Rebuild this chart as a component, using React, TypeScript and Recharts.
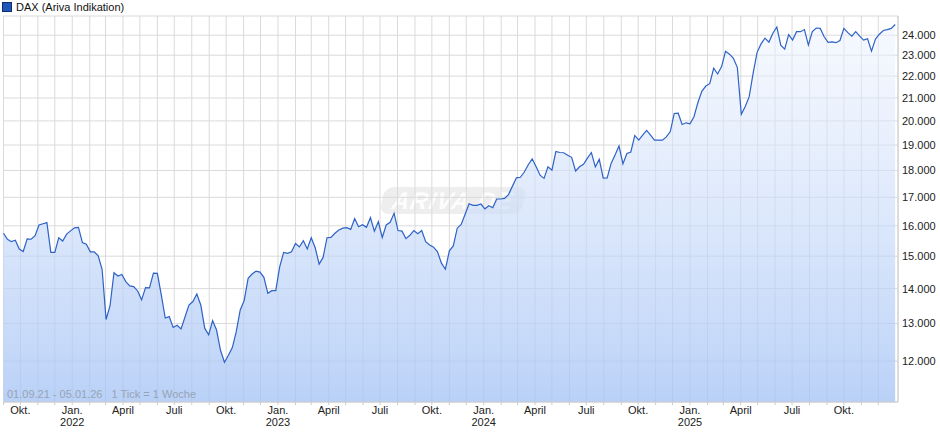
import { AreaChart, Area, XAxis, YAxis, CartesianGrid } from "recharts";

// Wochenschlusskurse DAX, 01.09.21 - 05.01.26 (1 Tick = 1 Woche)
const startDate = Date.UTC(2021, 8, 1);
const endDate = Date.UTC(2026, 0, 5);

const daxValues = [
  15750, 15550, 15470, 15520, 15230, 15150, 15560, 15550, 15670, 16030,
  16070, 16110, 15120, 15120, 15600, 15490, 15720, 15830, 15930, 15950,
  15440, 15390, 15140, 15140, 15010, 14580, 13110, 13500, 14480, 14380,
  14430, 14210, 14080, 14060, 13930, 13670, 14030, 14020, 14470, 14460,
  13810, 13150, 13190, 12890, 12950, 12850, 13180, 13520, 13620, 13840,
  13520, 12870, 12690, 13080, 12820, 12280, 11970, 12150, 12350, 12780,
  13380, 13650, 14310, 14440, 14530, 14500, 14340, 13860, 13940, 13940,
  14660, 15120, 15090, 15140, 15410, 15300, 15500, 15230, 15600, 15270,
  14750, 14960, 15600, 15610, 15750, 15860, 15920, 15940, 15880, 16250,
  15970, 16040, 15950, 16280, 15820, 16140, 15610, 16030, 16120, 16430,
  15840, 15820, 15570, 15680, 15840, 15730, 15840, 15470, 15360, 15290,
  15140, 14780, 14590, 15170, 15330, 15920, 16050, 16400, 16770, 16710,
  16710, 16760, 16590, 16700, 16630, 16940, 16940, 16960, 17100, 17410,
  17720, 17740, 17940, 18220, 18450, 18140, 17820, 17700, 18140, 18010,
  18740, 18700, 18690, 18590, 18510, 17980, 18140, 18240, 18480, 18700,
  18140, 18430, 17710, 17720, 18270, 18600, 18960, 18250, 18660, 18720,
  19390, 19200, 19400, 19600, 19400, 19200, 19200, 19200, 19330, 19550,
  20320, 20330, 19850, 19920, 19880, 20180, 20800, 21300, 21540, 21650,
  22370, 22100, 22450, 23190, 23050, 22850, 22400, 20280, 20620, 21060,
  22140, 23140, 23560, 23850, 23650, 24100, 24420, 23500, 23300, 24030,
  23750, 24180, 24180, 24290, 23500, 24180, 24370, 24350, 23920, 23640,
  23660, 23620, 23730, 24350, 24130, 23950, 24180, 23950, 23750, 23820,
  23200, 23800, 24050, 24240, 24290, 24350, 24550,
];

const yTicks = [12000, 13000, 14000, 15000, 16000, 17000, 18000, 19000, 20000, 21000, 22000, 23000, 24000, 25000];
const monthLabels: Record<number, string> = { 0: "Jan.", 3: "April", 6: "Juli", 9: "Okt." };

const DAY = 24 * 3600 * 1000;
const data = daxValues.map((v, i) => ({ t: startDate + i * 7 * DAY, dax: v }));

const monthTicks: number[] = [];
for (let y = 2021, m = 8; y < 2026; m++) {
  if (m > 11) { m = 0; y++; }
  if (y >= 2026) break;
  monthTicks.push(Date.UTC(y, m, 1));
}

const font = "'Liberation Sans', Arial, sans-serif";

const fmtDe = (v: number) => (v >= 25000 ? "" : String(v).replace(/\B(?=(\d{3})+(?!\d))/g, "."));

const MonthTick = (props: any) => {
  const { x, y, payload } = props;
  const d = new Date(payload.value);
  const label = monthLabels[d.getUTCMonth()];
  if (!label) return <g />;
  return (
    <g>
      <text x={x} y={y + 7} textAnchor="middle" fontSize={11} fill="#222" fontFamily={font}>{label}</text>
      {d.getUTCMonth() === 0 && (
        <text x={x} y={y + 19} textAnchor="middle" fontSize={11} fill="#222" fontFamily={font}>{d.getUTCFullYear()}</text>
      )}
    </g>
  );
};

export default function App() {
  return (
    <div style={{ position: "relative", width: 940, height: 435, fontFamily: font }}>
      <style>{`body{margin:0}`}</style>

      {/* watermark sits behind the chart */}
      <div
        style={{
          position: "absolute", left: 382, top: 187, width: 142, height: 27,
          background: "rgba(226,226,226,0.6)", borderRadius: 9, transform: "skewX(-12deg)",
          color: "rgba(255,255,255,0.95)", fontSize: 24, fontWeight: "bold", fontStyle: "italic",
          lineHeight: "27px", textAlign: "center", letterSpacing: 1,
        }}
      >
        ARIVA.DE
      </div>

      <div style={{ position: "relative" }}>
        <AreaChart width={940} height={435} data={data} margin={{ top: 16, right: 0, left: 3.5, bottom: 3 }}>
          <defs>
            <linearGradient id="daxFill" x1="0" y1="0" x2="0" y2="1">
              <stop offset="0%" stopColor="#edf3fe" stopOpacity={0.5} />
              <stop offset="100%" stopColor="#a6c4f5" stopOpacity={0.78} />
            </linearGradient>
          </defs>
          <CartesianGrid stroke="#dadada" strokeWidth={1} />
          <XAxis
            dataKey="t"
            type="number"
            scale="time"
            domain={[startDate, endDate]}
            ticks={monthTicks}
            interval={0}
            tick={<MonthTick />}
            tickSize={3}
            tickMargin={2}
            tickLine={{ stroke: "#cccccc" }}
            axisLine={{ stroke: "#cccccc" }}
            height={30}
          />
          <YAxis
            orientation="right"
            scale="log"
            domain={[11000, 25000]}
            ticks={yTicks}
            interval={0}
            tickFormatter={fmtDe}
            tick={{ fontSize: 11, fill: "#222", fontFamily: font }}
            tickLine={false}
            tickSize={2}
            tickMargin={2}
            axisLine={{ stroke: "#cccccc" }}
            width={42}
          />
          <Area
            type="linear"
            dataKey="dax"
            stroke="#2d62c6"
            strokeWidth={1.2}
            fill="url(#daxFill)"
            fillOpacity={1}
            baseValue={11000}
            isAnimationActive={false}
            dot={false}
            activeDot={false}
          />
        </AreaChart>
      </div>

      <div style={{ position: "absolute", left: 2, top: 2, display: "flex", alignItems: "center", fontSize: 11, color: "#111", lineHeight: "10px" }}>
        <span style={{ display: "inline-block", width: 8, height: 8, background: "#1f56b8", border: "1px solid #0d2f6e", marginRight: 4 }} />
        <span>DAX (Ariva Indikation)</span>
      </div>

      <div style={{ position: "absolute", left: 7, top: 388, fontSize: 11, color: "#97a3b5", whiteSpace: "pre" }}>
        {"01.09.21 - 05.01.26   1 Tick = 1 Woche"}
      </div>
    </div>
  );
}
